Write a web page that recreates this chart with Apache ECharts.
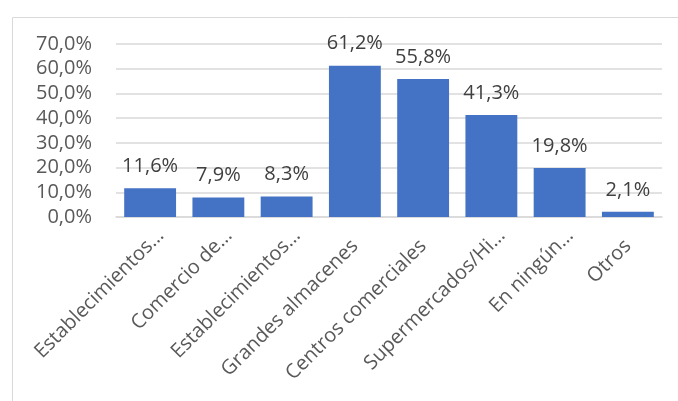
<!DOCTYPE html>
<html>
<head>
<meta charset="utf-8">
<script src="https://cdn.jsdelivr.net/npm/echarts@6/dist/echarts.min.js"></script>
<style>
  html, body { margin: 0; padding: 0; background: #ffffff; }
  #chart { width: 678px; height: 401px; }
</style>
</head>
<body>
<div id="chart"></div>
<script>
// Category names as shown on the axis (long names cut with an ellipsis)
const categories = [
  'Establecimientos…',
  'Comercio de…',
  'Establecimientos…',
  'Grandes almacenes',
  'Centros comerciales',
  'Supermercados/Hi…',
  'En ningún…',
  'Otros'
];
// Share of respondents, percent
const values = [11.6, 7.9, 8.3, 61.2, 55.8, 41.3, 19.8, 2.1];
// Value axis range
const yMin = 0;
const yMax = 70;
const yStep = 10;

const FONT = '"Open Sans", sans-serif';
const fmtPct = v => v.toFixed(1).replace('.', ',') + '%';

const chart = echarts.init(document.getElementById('chart'), null, { renderer: 'canvas' });
chart.setOption({
  animation: false,
  backgroundColor: '#ffffff',
  graphic: [{
    type: 'rect',
    left: 10, top: 15,
    shape: { width: 720, height: 420 },
    style: { fill: 'none', stroke: '#d9d9d9', lineWidth: 1 },
    silent: true
  }],
  grid: { left: 116, right: 16, top: 44, bottom: 184, containLabel: false },
  xAxis: {
    type: 'category',
    data: categories,
    axisLine: { show: true, lineStyle: { color: '#d9d9d9', width: 1.5 } },
    axisTick: { show: false },
    axisLabel: {
      interval: 0,
      rotate: 45,
      margin: 26,
      color: '#595959',
      fontFamily: FONT,
      fontSize: 20,
      // shortened names sit a little further along the slant
      formatter: v => v.endsWith('…') ? '{cut|' + v + '}' : '{full|' + v + '}',
      rich: {
        cut: { color: '#595959', fontFamily: FONT, fontSize: 20, padding: [0, -15, 0, 0] },
        full: { color: '#595959', fontFamily: FONT, fontSize: 20 }
      }
    }
  },
  yAxis: {
    type: 'value',
    min: yMin, max: yMax, interval: yStep,
    axisLine: { show: false },
    axisTick: { show: false },
    splitLine: { lineStyle: { color: '#d9d9d9', width: 1.5 } },
    axisLabel: {
      margin: 24,
      color: '#595959',
      fontFamily: FONT,
      fontSize: 20,
      formatter: v => fmtPct(v)
    }
  },
  series: [{
    type: 'bar',
    data: values,
    barCategoryGap: '24%',
    itemStyle: { color: '#4472c4' },
    label: {
      show: true,
      position: 'top',
      distance: 12,
      color: '#404040',
      fontFamily: FONT,
      fontSize: 20,
      formatter: p => fmtPct(p.value)
    }
  }]
});
</script>
</body>
</html>
